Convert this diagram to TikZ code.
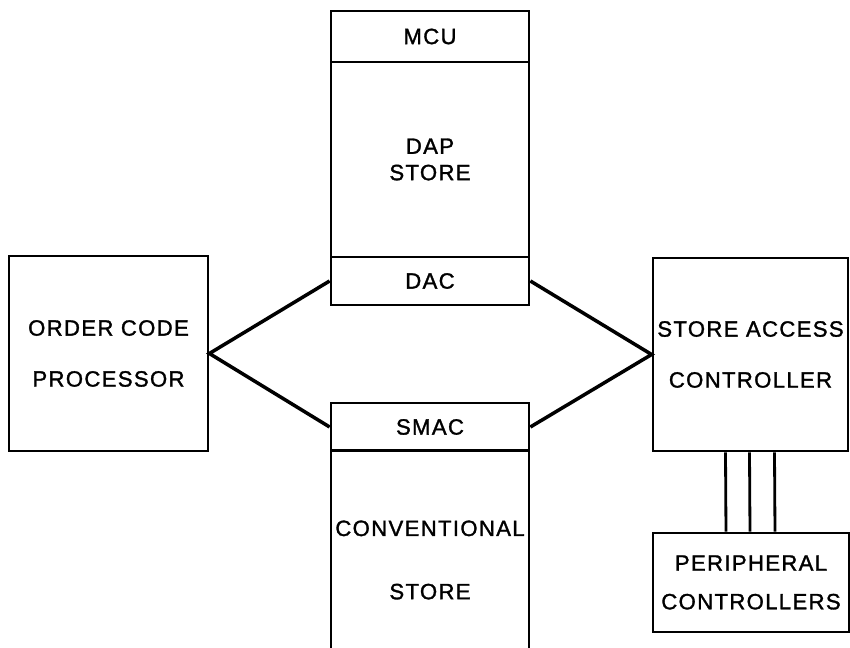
\documentclass[tikz,border=0pt]{standalone}
\usepackage{fontspec}
\setmainfont[LetterSpace=6, FakeBold=1.4]{Liberation Sans}
\usetikzlibrary{positioning}

\begin{document}
\begin{tikzpicture}[x=0.02cm, y=-0.02cm, line join=miter,
    blk/.style={rectangle, draw, line width=1.6pt, minimum width=3.96cm, inner sep=0pt,
        align=center, font=\fontsize{12.6}{15}\selectfont},
    link/.style={line width=2pt}]
			\useasboundingbox (0,0) rectangle (850,648);
			\clip (0,0) rectangle (850,648);
			% Store column (top)
			\node[blk, minimum height=1.02cm] (mcu) at (430,36.5) {MCU};
			\node[blk, minimum height=3.9cm] (dap) at (430,159.5) {DAP\\[0pt]STORE};
			\node[blk, minimum height=0.96cm] (dac) at (430,281) {DAC};
			
			% Store column (bottom)
			\node[blk, minimum height=0.96cm] (smac) at (430,427) {SMAC};
			\node[blk, minimum height=4.38cm] (conv) at (430,560) {CONVENTIONAL\\[21pt]STORE};
			
			% Side blocks
			\node[blk, minimum width=3.98cm, minimum height=3.9cm] (ocp) at (108.5,353.5) {ORDER CODE\\[14pt]PROCESSOR};
			\node[blk, minimum width=3.9cm, minimum height=3.86cm] (sac) at (750.5,354.5) {STORE ACCESS\\[14pt]CONTROLLER};
			\node[blk, minimum width=3.92cm, minimum height=1.98cm] (per) at (751,582.5) {PERIPHERAL\\[7pt]CONTROLLERS};
			
			% Links
			\draw[link] (dac.west) -- (ocp.east) -- (smac.west);
			\draw[link] (dac.east) -- (sac.west) -- (smac.east);
			
			% Bus to peripherals
			\foreach \dx in {-25,-1,24}
				\draw[line width=1.6pt] ([xshift=\dx*0.02cm]sac.south) -- ([xshift=\dx*0.02cm]per.north);
		\end{tikzpicture}
\end{document}
